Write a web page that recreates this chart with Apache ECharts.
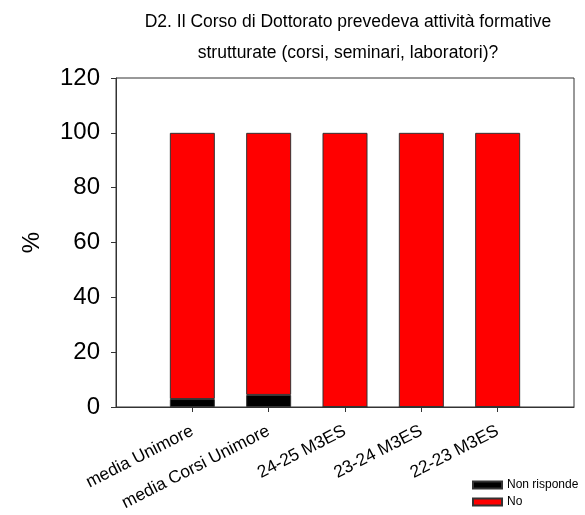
<!DOCTYPE html>
<html>
<head>
<meta charset="utf-8">
<script src="https://cdn.jsdelivr.net/npm/echarts@6/dist/echarts.min.js"></script>
<style>html,body{margin:0;padding:0;background:#fff;}#c{width:585px;height:515px;}</style>
</head>
<body>
<div id="c"></div>
<script>
const categories = ['media Unimore', 'media Corsi Unimore', '24-25 M3ES', '23-24 M3ES', '22-23 M3ES'];
const nonRisponde = [2.9, 4.4, 0, 0, 0];
const no = [97.1, 95.6, 100, 100, 100];
const yTicks = [0, 20, 40, 60, 80, 100, 120];

const axisCats = [''].concat(categories, ['']);
const pad = a => [null].concat(a, [null]);
const FONT = 'Liberation Sans, Arial, sans-serif';

const chart = echarts.init(document.getElementById('c'));
chart.setOption({
  animation: false,
  title: {
    text: 'D2. Il Corso di Dottorato prevedeva attività formative\nstrutturate (corsi, seminari, laboratori)?',
    left: 348, top: 7, textAlign: 'center', padding: 0,
    textStyle: { fontFamily: FONT, fontSize: 17.5, fontWeight: 'normal', color: '#000', lineHeight: 31 }
  },
  grid: { left: 116, right: 11, top: 78, bottom: 108, show: true, borderColor: '#333', borderWidth: 1, backgroundColor: 'transparent' },
  legend: {
    orient: 'vertical', left: 472, top: 478, padding: 0,
    icon: 'rect',
    itemWidth: 29, itemHeight: 7, itemGap: 3,
    textStyle: { fontFamily: FONT, fontSize: 12, color: '#000', lineHeight: 14 },
    data: ['Non risponde', 'No']
  },
  xAxis: {
    type: 'category', data: axisCats, boundaryGap: false,
    axisLine: { lineStyle: { color: '#333', width: 1 } },
    axisTick: { length: 5, lineStyle: { color: '#333' }, interval: (i) => i > 0 && i < axisCats.length - 1 },
    axisLabel: { rotate: 27, interval: 0, fontFamily: FONT, fontSize: 17.4, color: '#000', margin: 23 }
  },
  yAxis: {
    type: 'value', min: yTicks[0], max: yTicks[yTicks.length - 1], interval: 20,
    name: '%', nameLocation: 'middle', nameGap: 72, nameRotate: 90,
    nameTextStyle: { fontFamily: FONT, fontSize: 24, color: '#000' },
    axisLine: { show: true, lineStyle: { color: '#333' } },
    axisTick: { show: true, inside: false, length: 5, lineStyle: { color: '#333' } },
    splitLine: { show: false },
    axisLabel: { fontFamily: FONT, fontSize: 24, color: '#000', margin: 16 }
  },
  series: [
    { name: 'Non risponde', type: 'bar', stack: 's', barWidth: 45, data: pad(nonRisponde),
      itemStyle: { color: '#000000', borderColor: '#333', borderWidth: 1 } },
    { name: 'No', type: 'bar', stack: 's', barWidth: 45, data: pad(no),
      itemStyle: { color: '#ff0000', borderColor: '#333', borderWidth: 1 } }
  ]
});
</script>
</body>
</html>
